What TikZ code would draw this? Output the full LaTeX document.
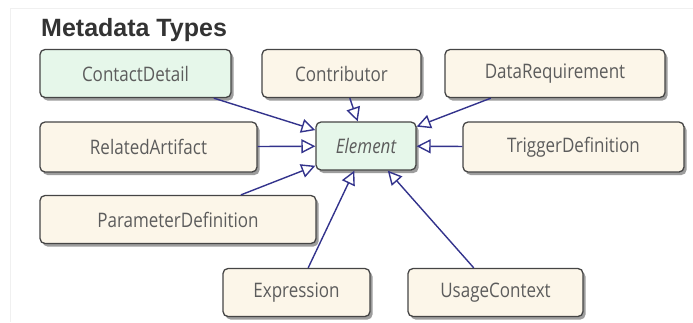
\documentclass[tikz,border=0pt]{standalone}
\usepackage{fontspec}
\setmainfont{Open Sans}[FakeStretch=0.85]
\newfontfamily\titlefont{Liberation Sans}
\usetikzlibrary{positioning,shadows,arrows.meta}
\definecolor{boxfill}{HTML}{FCF6E9}
\definecolor{basefill}{HTML}{E6F7EA}
\definecolor{boxline}{HTML}{454545}
\definecolor{boxtext}{HTML}{5C5C5C}
\definecolor{genline}{HTML}{33338C}
\definecolor{titletext}{HTML}{333333}

\begin{document}
\begin{tikzpicture}[x=1pt,y=-1pt,
										mytype/.style={draw=boxline,line width=1.3pt,rounded corners=5pt,fill=boxfill,
										text=boxtext,font=\fontsize{20}{24}\selectfont,minimum height=48pt,
										drop shadow={shadow xshift=2.5pt,shadow yshift=-3pt,opacity=0.55,fill=black!70}},
										mybase/.style={mytype,fill=basefill},
										gen/.style={draw=genline,line width=1.4pt,-{Triangle[open,length=14pt,width=14pt]}}
										]
	\useasboundingbox (0,0) rectangle (693,322);
	\draw[gray!12] (10,322) |- (693,8);
	\node[anchor=west,inner sep=0pt,text=titletext,font=\titlefont\bfseries\fontsize{25}{28}\selectfont] (title) at (41,30) {Metadata Types};

	\node[mybase,minimum width=191pt] (cd) at (135.5,73.5) {ContactDetail};
	\node[mytype,minimum width=159pt] (co) at (341.5,73.5) {Contributor};
	\node[mytype,minimum width=220pt] (dr) at (555,73.5) {DataRequirement};
	\node[mytype,minimum width=217pt,minimum height=50pt] (ra) at (148.5,147) {RelatedArtifact};
	\node[mybase,minimum width=100pt] (el) at (366,146) {\itshape Element};
	\node[mytype,minimum width=221pt,minimum height=50pt] (td) at (573.5,147) {TriggerDefinition};
	\node[mytype,minimum width=276pt] (pd) at (178,219.5) {ParameterDefinition};
	\node[mytype,minimum width=147pt] (ex) at (296.5,292.5) {Expression};
	\node[mytype,minimum width=175pt] (uc) at (495.5,292.5) {UsageContext};

	\path (cd) edge[gen] (el)
	(co) edge[gen] (el)
	(dr) edge[gen] (el)
	(ra) edge[gen] (el)
	(td) edge[gen] (el)
	(pd) edge[gen] (el)
	(ex) edge[gen] (el)
	(uc) edge[gen] (el);
\end{tikzpicture}
\end{document}
